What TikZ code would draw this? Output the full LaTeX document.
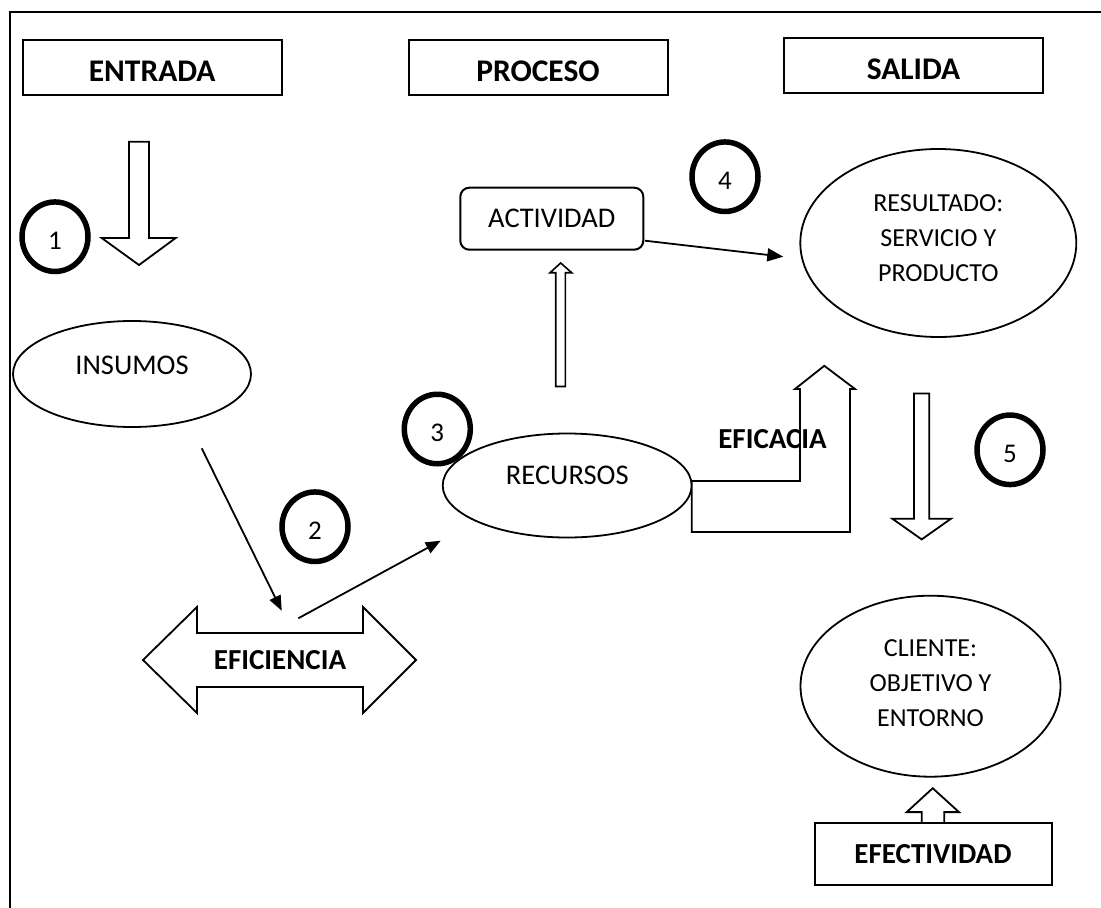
\documentclass[tikz,border=0pt]{standalone}
\usepackage{fontspec}
\setmainfont{Carlito}
\usetikzlibrary{shapes.geometric,arrows.meta}
\begin{document}
\begin{tikzpicture}[x=1pt,y=-1pt,
  hdr/.style={draw,line width=2pt,inner sep=0pt,minimum width=259pt,minimum height=55pt,
    text height=28pt,text depth=0pt,font=\fontsize{31.5}{36}\selectfont\bfseries},
  oval/.style={draw,ellipse,line width=1.8pt,inner sep=0pt},
  txt/.style={font=\fontsize{28.5}{34}\selectfont,inner sep=0pt},
  ovaltxt/.style={font=\fontsize{26}{35}\selectfont,align=center,inner sep=0pt},
  numc/.style={draw,ellipse,line width=5.5pt,fill=white,minimum width=66pt,
    minimum height=69.5pt,inner sep=0pt},
  numt/.style={font=\fontsize{27}{30}\selectfont,yshift=-4pt},
  blk/.style={draw,line width=1.8pt,fill=white,line join=miter},
  conn/.style={line width=1.8pt,-{Triangle[length=15pt,width=12pt]}},
  boldtxt/.style={font=\fontsize{29}{34}\selectfont\bfseries,inner sep=0pt}
]
\useasboundingbox (0,0) rectangle (1101,908);

% outer frame (open to the right and bottom)
\draw[line width=2pt] (10,910) -- (10,11.5) -- (1103,11.5);

% column headers
\node[hdr] (entrada) at (152.2,67.5) {ENTRADA};
\node[hdr] (proceso) at (538,67.8) {PROCESO};
\node[hdr] (salida)  at (913.5,65.8) {SALIDA};

% block arrow below ENTRADA
\draw[blk] (129,141.7) -- (149,141.7) -- (149,238) -- (175.7,238) -- (139,265)
  -- (101.7,238) -- (129,238) -- cycle;

% INSUMOS
\node[oval,minimum width=238pt,minimum height=106pt] (insumos) at (132,374) {};
\node[txt] (insumost) at (132,365) {INSUMOS};

% EFICIENCIA double arrow
\draw[blk] (143,660) -- (197,607) -- (197,633) -- (363,633) -- (363,607) -- (416,660)
  -- (363,713) -- (363,687) -- (197,687) -- (197,713) -- cycle;
\node[boldtxt] (eficiencia) at (280,660) {EFICIENCIA};

% RECURSOS
\node[oval,minimum width=249pt,minimum height=104pt] (recursos) at (567.2,485.5) {};
\node[txt] (recursost) at (567.3,475) {RECURSOS};

% thin arrow RECURSOS -> ACTIVIDAD
\draw[blk,line width=1.6pt] (555.7,386.5) -- (555.7,272.7) -- (550,272.7) -- (560.7,263)
  -- (571.7,272.7) -- (565.3,272.7) -- (565.3,386.5) -- cycle;

% ACTIVIDAD
\node[draw,line width=2pt,rounded corners=9pt,minimum width=183pt,minimum height=62pt,
  inner sep=0pt,txt] (actividad) at (551.8,218.7) {ACTIVIDAD};

% RESULTADO
\node[oval,minimum width=276pt,minimum height=188pt] (resultado) at (938.3,243) {};
\node[ovaltxt] (resultadot) at (938.3,238) {RESULTADO:\\SERVICIO Y\\PRODUCTO};

% EFICACIA bent arrow
\draw[blk] (691.7,481) -- (800,481) -- (800,389) -- (795,389) -- (824.3,365.8)
  -- (855,389) -- (850,389) -- (850,532) -- (691.7,532) -- cycle;
\node[boldtxt] (eficacia) at (772.5,438.7) {EFICACIA};

% block arrow towards CLIENTE
\draw[blk] (914,393.4) -- (929.3,393.4) -- (929.3,518.7) -- (951,518.7) -- (921.7,539.4)
  -- (892.3,518.7) -- (914,518.7) -- cycle;

% CLIENTE
\node[oval,minimum width=260pt,minimum height=181pt] (cliente) at (930.5,686.2) {};
\node[ovaltxt] (clientet) at (930.5,683) {CLIENTE:\\OBJETIVO Y\\ENTORNO};

% EFECTIVIDAD with its up arrow
\draw[blk] (921.7,823) -- (921.7,812.1) -- (906.7,812.1) -- (932.7,788.2) -- (959,812.1)
  -- (944.3,812.1) -- (944.3,823);
\node[draw,line width=2pt,fill=white,minimum width=237pt,minimum height=62pt,inner sep=0pt,
  boldtxt] (efectividad) at (933,853.9) {EFECTIVIDAD};

% connectors
\coordinate (i1) at (201.7,448.3);
\coordinate (i2) at (281.7,610.7);
\coordinate (r1) at (298.3,618.3);
\coordinate (r2) at (440.7,540.7);
\coordinate (a1) at (645,240.7);
\coordinate (a2) at (783.3,256.7);
\draw[conn] (i1) -- (i2);
\draw[conn] (r1) -- (r2);
\draw[conn,-{Triangle[length=16pt,width=13pt]}] (a1) -- (a2);

% numbered circles
\node[numc,label={[numt]center:1}] (n1) at (55,236.7) {};
\node[numc,label={[numt]center:2}] (n2) at (315,526.7) {};
\node[numc,label={[numt]center:3}] (n3) at (437.3,429) {};
\node[numc,label={[numt]center:4}] (n4) at (725,176.7) {};
\node[numc,label={[numt]center:5}] (n5) at (1010,449.8) {};
\end{tikzpicture}
\end{document}
